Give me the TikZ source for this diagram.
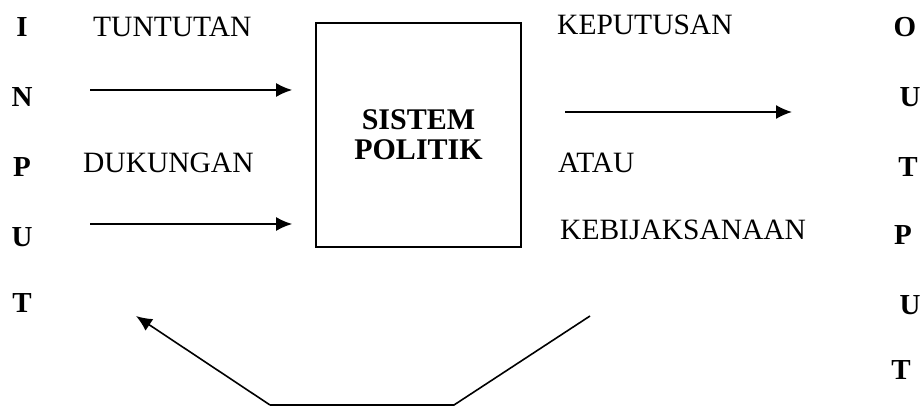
\documentclass[tikz,border=0pt]{standalone}
\usepackage{fontspec}
\setmainfont{Liberation Serif}
\usetikzlibrary{arrows.meta, positioning}
\definecolor{ink}{HTML}{000000}
\tikzset{
  label/.style={font=\fontsize{29.5}{31}\selectfont, text=ink, inner sep=0pt},
  letter/.style={font=\bfseries\fontsize{29}{30}\selectfont, text=ink, inner sep=0pt, anchor=base},
  sysbox/.style={draw=ink, line width=1.8pt, minimum width=205pt, minimum height=224pt, inner sep=0pt,
    align=center, font=\bfseries\fontsize{30}{30}\selectfont, text=ink},
  flow/.style={draw=ink, line width=1.6pt, -{Latex[length=16pt,width=14pt]}},
  loop/.style={draw=ink, line width=1.6pt}
}

\begin{document}
\begin{tikzpicture}[x=1pt,y=1pt]
\useasboundingbox (0,0) rectangle (922,407);

\node[letter] (in1) at (22,370) {I};
\node[letter] (in2) at (22,300) {N};
\node[letter] (in3) at (22,230) {P};
\node[letter] (in4) at (22,160) {U};
\node[letter] (in5) at (22,94) {T};

\node[letter] (out1) at (905,370) {O};
\node[letter] (out2) at (910,300) {U};
\node[letter] (out3) at (908,230) {T};
\node[letter] (out4) at (903,162) {P};
\node[letter] (out5) at (910,92) {U};
\node[letter] (out6) at (901,27) {T};

\node[sysbox] (sistem) at (418.5,272) {SISTEM\\POLITIK};

\node[label, anchor=base west] (tuntutan) at (93,370) {TUNTUTAN};
\node[label, anchor=base west] (dukungan) at (83,234) {DUKUNGAN};
\node[label, anchor=base west] (keputusan) at (557,372) {KEPUTUSAN};
\node[label, anchor=base west] (atau) at (558,234) {ATAU};
\node[label, anchor=base west] (kebijakan) at (560,167) {KEBIJAKSANAAN};

\coordinate (tuntutanIn) at (90,317);
\coordinate (dukunganIn) at (90,183);
\coordinate (hasilA) at (565,295);
\coordinate (hasilB) at (792,295);
\coordinate (balikA) at (590,91);
\coordinate (balikB) at (454,2);
\coordinate (balikC) at (270,2);
\coordinate (balikD) at (136,91);

\draw[flow, shorten >=23pt] (tuntutanIn) -- (tuntutanIn -| sistem.west);
\draw[flow, shorten >=23pt] (dukunganIn) -- (dukunganIn -| sistem.west);
\draw[flow] (hasilA) -- (hasilB);
\draw[loop] (balikA) -- (balikB) -- (balikC);
\draw[flow] (balikC) -- (balikD);

\end{tikzpicture}
\end{document}
